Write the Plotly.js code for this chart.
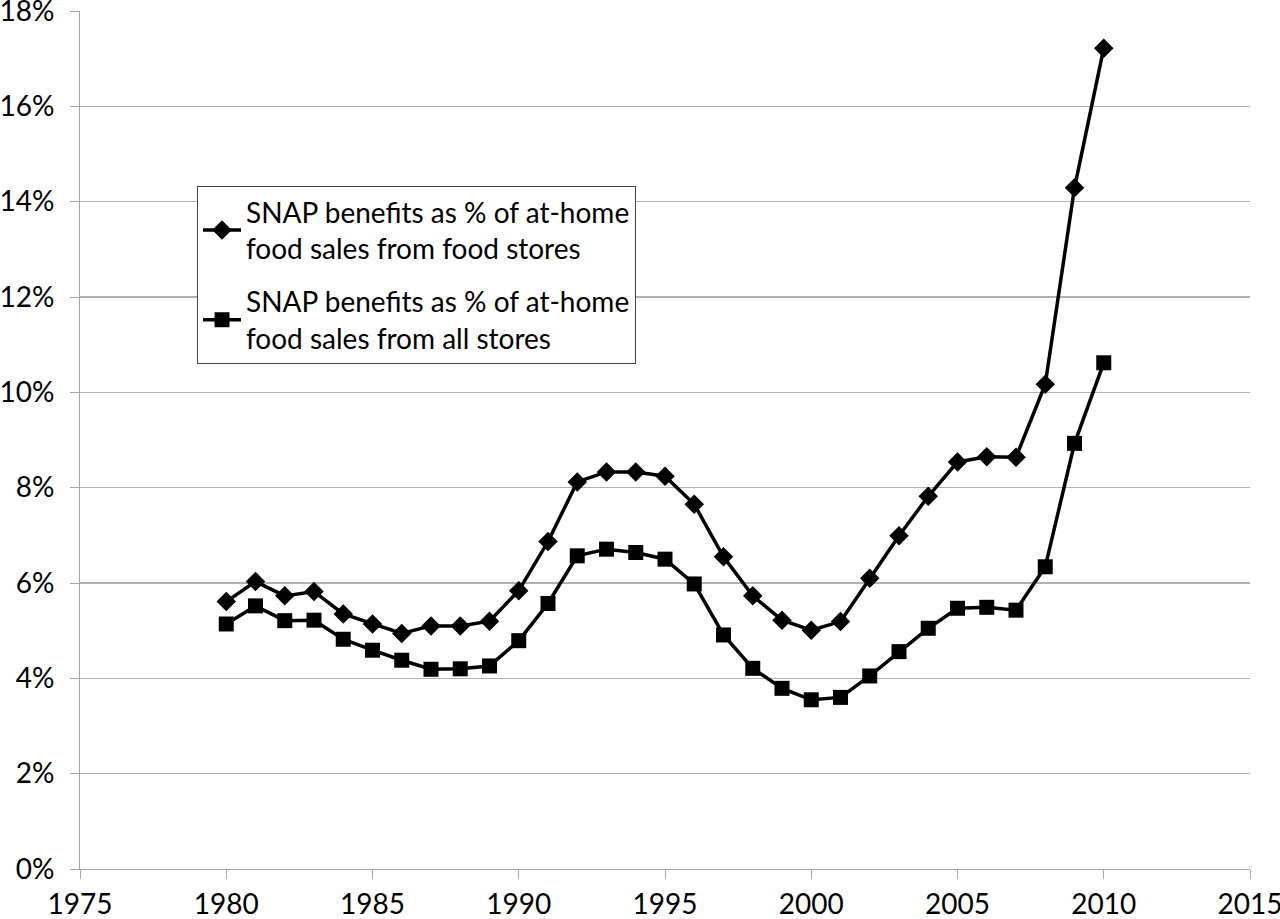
<!DOCTYPE html>
<html>
<head>
<meta charset="utf-8">
<script src="https://cdn.plot.ly/plotly-3.0.1.min.js"></script>
<style>html,body{margin:0;padding:0;background:#fff;}#chart{width:1280px;height:919px;}</style>
</head>
<body>
<div id="chart"></div>
<script>
const years = [1980,1981,1982,1983,1984,1985,1986,1987,1988,1989,1990,1991,1992,1993,1994,1995,1996,1997,1998,1999,2000,2001,2002,2003,2004,2005,2006,2007,2008,2009,2010];
const foodStores = [5.61,6.03,5.73,5.82,5.35,5.14,4.94,5.10,5.10,5.20,5.84,6.87,8.12,8.33,8.33,8.24,7.65,6.55,5.73,5.22,5.01,5.19,6.10,6.99,7.82,8.54,8.65,8.64,10.17,14.29,17.22];
const allStores = [5.14,5.52,5.21,5.22,4.82,4.59,4.38,4.19,4.20,4.26,4.79,5.57,6.57,6.71,6.64,6.50,5.98,4.91,4.21,3.79,3.55,3.60,4.05,4.56,5.05,5.47,5.49,5.43,6.34,8.93,10.62];
const seriesNames = ["SNAP benefits as % of at-home<br>food sales from food stores","SNAP benefits as % of at-home<br>food sales from all stores"];
const xTicks = [1975,1980,1985,1990,1995,2000,2005,2010,2015];
const yTicks = [0,2,4,6,8,10,12,14,16,18];

const FONT = "Lato, 'Open Sans', sans-serif";
const traces = [
  {x: years, y: foodStores, name: seriesNames[0], type: 'scatter', mode: 'lines+markers', legendgroup: 'a',
   line: {color: '#000', width: 3.5}, marker: {symbol: 'diamond', size: 15, color: '#000'}},
  {x: years, y: allStores, name: seriesNames[1], type: 'scatter', mode: 'lines+markers', legendgroup: 'b',
   line: {color: '#000', width: 3.5}, marker: {symbol: 'square', size: 15, color: '#000'}}
];
const layout = {
  width: 1280, height: 919,
  margin: {l: 80, r: 30, t: 11, b: 50},
  paper_bgcolor: '#fff', plot_bgcolor: '#fff',
  font: {family: FONT, size: 28, color: '#000'},
  showlegend: true,
  legend: {x: 0.1, y: 0.796, xanchor: 'left', yanchor: 'top', bgcolor: '#fff', bordercolor: '#444', borderwidth: 1,
           font: {family: FONT, size: 28, color: '#000'}, tracegroupgap: 14, traceorder: 'grouped', itemwidth: 38},
  xaxis: {range: [1975, 2015], tickvals: xTicks, ticktext: xTicks.map(String), showgrid: false, zeroline: false,
          showline: true, linecolor: '#a6a6a6', linewidth: 1, ticks: 'outside', ticklen: 9, tickcolor: '#a6a6a6',
          tickfont: {family: FONT, size: 28, color: '#000'}, ticklabelstandoff: 1, ticklabeloverflow: 'allow'},
  yaxis: {range: [0, 18], tickvals: yTicks, ticktext: yTicks.map(v => v + '%'), showgrid: true, gridcolor: '#b0b0b0', gridwidth: 1.5,
          zeroline: false, showline: true, linecolor: '#a6a6a6', linewidth: 1, ticks: 'outside', ticklen: 9, tickcolor: '#a6a6a6',
          tickfont: {family: FONT, size: 28, color: '#000'}, ticklabelstandoff: 10, ticklabeloverflow: 'allow'}
};
Plotly.newPlot('chart', traces, layout, {displayModeBar: false, staticPlot: true});
</script>
</body>
</html>
